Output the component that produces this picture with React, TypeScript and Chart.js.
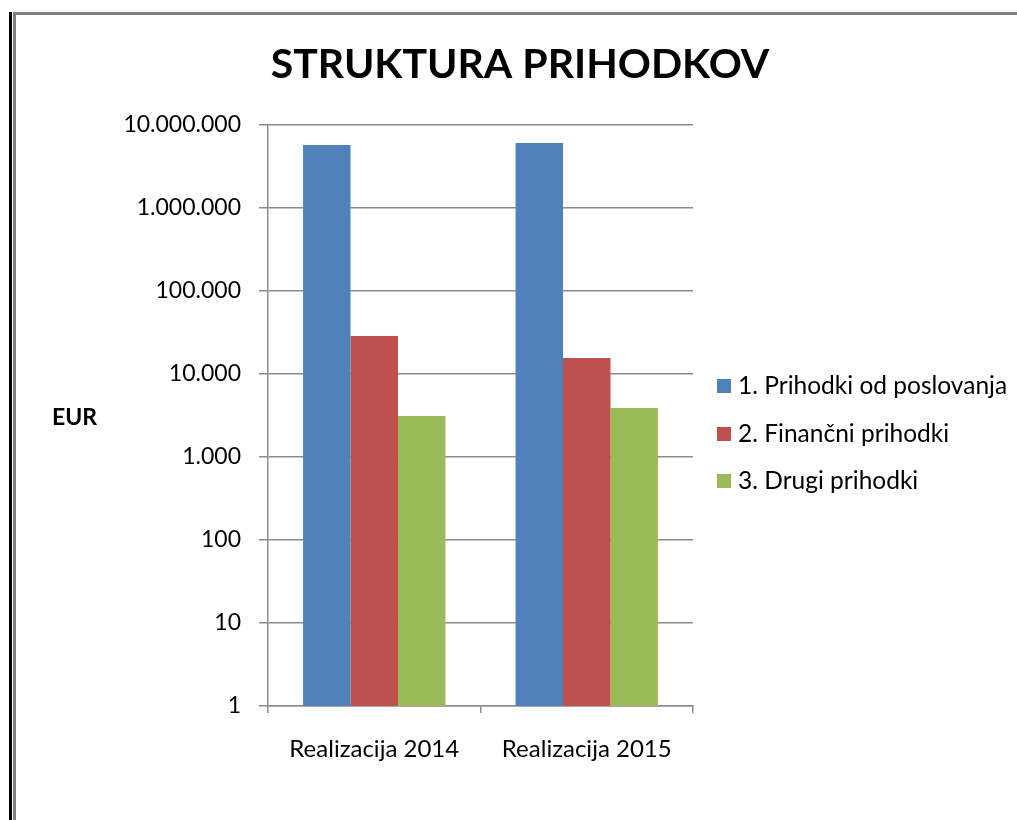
import React, { useEffect, useRef } from "react";
import { Chart, registerables } from "chart.js";

Chart.register(...registerables);

const categories = ["Realizacija 2014", "Realizacija 2015"];
const seriesNames = ["1. Prihodki od poslovanja", "2. Finančni prihodki", "3. Drugi prihodki"];
const prihodkiPoslovanja = [5740000, 6070000];
const financniPrihodki = [28700, 15600];
const drugiPrihodki = [3120, 3890];
const yTickValues = [1, 10, 100, 1000, 10000, 100000, 1000000, 10000000];
const titleText = "STRUKTURA PRIHODKOV";
const axisTitle = "EUR";

const colors = ["#4F81BD", "#C0504D", "#9BBB59"];
const FONT = "Lato, 'Open Sans', sans-serif";
const GRID = "#8c8c8c";

const fmt = (v: number) => String(v).replace(/\B(?=(\d{3})+(?!\d))/g, ".");

const overlayPlugin = {
  id: "overlay",
  afterDraw(chart: any) {
    const ctx = chart.ctx;
    ctx.save();
    // title
    ctx.fillStyle = "#000";
    ctx.font = `bold 41px ${FONT}`;
    ctx.textAlign = "center";
    ctx.textBaseline = "middle";
    ctx.fillText(titleText, 520, 65);
    // axis title
    ctx.font = `bold 23px ${FONT}`;
    ctx.textAlign = "left";
    ctx.fillText(axisTitle, 52, 418);
    // legend
    const ys = [386, 434, 481];
    ctx.font = `24.5px ${FONT}`;
    chart.data.datasets.forEach((ds: any, i: number) => {
      ctx.fillStyle = ds.backgroundColor;
      ctx.fillRect(717, ys[i] - 7, 14, 14);
      ctx.fillStyle = "#000";
      ctx.fillText(ds.label, 738, ys[i]);
    });
    ctx.restore();
  },
};

export default function App() {
  const ref = useRef<HTMLCanvasElement | null>(null);
  useEffect(() => {
    if (!ref.current) return;
    const chart = new Chart(ref.current, {
      type: "bar",
      data: {
        labels: categories,
        datasets: [prihodkiPoslovanja, financniPrihodki, drugiPrihodki].map((d, i) => ({
          label: seriesNames[i],
          data: d,
          backgroundColor: colors[i],
          borderWidth: 0,
          barPercentage: 1,
          categoryPercentage: 0.67,
        })),
      },
      options: {
        animation: false,
        responsive: false,
        layout: { padding: { left: 0, right: 324, top: 125, bottom: 54 } },
        plugins: { legend: { display: false }, title: { display: false }, tooltip: { enabled: false } },
        scales: {
          x: {
            grid: { drawOnChartArea: false, drawTicks: true, tickLength: 7, color: GRID, lineWidth: 1.5 },
            border: { display: true, color: GRID, width: 1.5 },
            ticks: { font: { family: FONT, size: 24 }, color: "#000", padding: 22 },
            afterFit: (s: any) => { s.height = 60; },
          },
          y: {
            type: "logarithmic",
            min: 1,
            max: 10000000,
            afterBuildTicks: (s: any) => { s.ticks = yTickValues.map((v) => ({ value: v })); },
            grid: { color: GRID, lineWidth: 1.5, tickLength: 9 },
            border: { display: true, color: GRID, width: 1.5 },
            ticks: {
              font: { family: FONT, size: 23 },
              color: "#000",
              padding: 18,
              autoSkip: false,
              callback: (v: any) => fmt(Number(v)),
            },
            afterFit: (s: any) => { s.width = 268; },
          },
        },
      },
      plugins: [overlayPlugin],
    });
    return () => chart.destroy();
  }, []);
  return (
    <div style={{ position: "fixed", left: 0, top: 0, width: 1017, height: 820, background: "#fff", overflow: "hidden" }}>
      <canvas ref={ref} width={1017} height={820} style={{ position: "absolute", left: 0, top: 0 }} />
      <div style={{ position: "absolute", left: 9, top: 12, width: 3, height: 808, background: "#000" }} />
      <div style={{ position: "absolute", left: 13, top: 12, width: 3, height: 808, background: "#808080" }} />
      <div style={{ position: "absolute", left: 13, top: 12, width: 1004, height: 3, background: "#808080" }} />
    </div>
  );
}
